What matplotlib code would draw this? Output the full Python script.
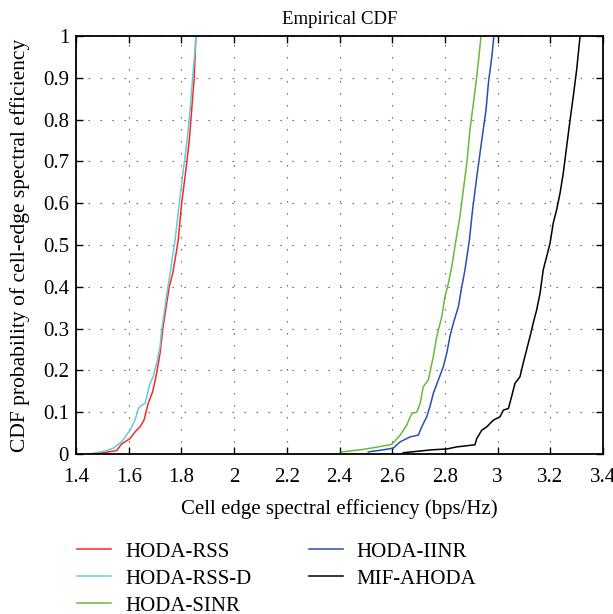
import matplotlib
matplotlib.use("Agg")
import matplotlib.pyplot as plt

plt.rcParams['font.family'] = ['Liberation Serif', 'DejaVu Serif']

# ---- data ----
rss_x = [1.472, 1.554, 1.573, 1.605, 1.624, 1.643, 1.658, 1.674, 1.691, 1.706, 1.719, 1.729,
         1.742, 1.754, 1.767, 1.780, 1.788, 1.801, 1.817, 1.830, 1.839, 1.848, 1.852, 1.855]
rss_y = [0.000, 0.008, 0.024, 0.037, 0.053, 0.065, 0.081, 0.121, 0.149, 0.193, 0.241, 0.297,
         0.352, 0.400, 0.432, 0.480, 0.512, 0.600, 0.679, 0.751, 0.823, 0.895, 0.950, 1.000]

rssd_x = [1.451, 1.516, 1.542, 1.573, 1.605, 1.624, 1.637, 1.650, 1.662, 1.681, 1.693, 1.706,
          1.719, 1.725, 1.738, 1.747, 1.757, 1.772, 1.776, 1.792, 1.807, 1.822, 1.835, 1.845,
          1.852, 1.855]
rssd_y = [0.000, 0.008, 0.014, 0.029, 0.057, 0.081, 0.109, 0.117, 0.121, 0.169, 0.185, 0.217,
          0.257, 0.297, 0.352, 0.392, 0.432, 0.496, 0.512, 0.600, 0.679, 0.751, 0.839, 0.919,
          0.967, 1.000]

sinr_x = [2.408, 2.490, 2.547, 2.598, 2.604, 2.630, 2.655, 2.674, 2.693, 2.706, 2.718, 2.737,
          2.756, 2.769, 2.788, 2.800, 2.813, 2.826, 2.842, 2.857, 2.870, 2.883, 2.895, 2.908,
          2.921, 2.929, 2.937]
sinr_y = [0.005, 0.011, 0.017, 0.023, 0.027, 0.045, 0.069, 0.097, 0.100, 0.121, 0.161, 0.177,
          0.233, 0.281, 0.328, 0.376, 0.408, 0.448, 0.512, 0.568, 0.632, 0.695, 0.775, 0.839,
          0.903, 0.950, 1.000]

iinr_x = [2.509, 2.566, 2.604, 2.630, 2.668, 2.699, 2.712, 2.731, 2.743, 2.756, 2.775, 2.794,
          2.807, 2.819, 2.832, 2.851, 2.864, 2.876, 2.893, 2.905, 2.921, 2.940, 2.956, 2.965,
          2.978, 2.986]
iinr_y = [0.005, 0.010, 0.014, 0.029, 0.041, 0.045, 0.065, 0.089, 0.113, 0.145, 0.177, 0.209,
          0.241, 0.281, 0.313, 0.352, 0.400, 0.440, 0.512, 0.584, 0.663, 0.751, 0.823, 0.887,
          0.950, 1.000]

mif_x = [2.642, 2.750, 2.807, 2.845, 2.914, 2.921, 2.940, 2.959, 2.984, 3.009, 3.022, 3.041,
         3.053, 3.066, 3.085, 3.097, 3.110, 3.123, 3.135, 3.148, 3.161, 3.173, 3.186, 3.199,
         3.211, 3.224, 3.237, 3.249, 3.262, 3.275, 3.287, 3.300, 3.313]
mif_y = [0.003, 0.010, 0.012, 0.017, 0.022, 0.037, 0.057, 0.065, 0.081, 0.089, 0.105, 0.109,
         0.137, 0.169, 0.185, 0.217, 0.249, 0.281, 0.313, 0.344, 0.384, 0.440, 0.472, 0.504,
         0.552, 0.584, 0.624, 0.671, 0.735, 0.799, 0.855, 0.919, 1.000]

labels = ['HODA-RSS', 'HODA-RSS-D', 'HODA-SINR', 'HODA-IINR', 'MIF-AHODA']
colors = ['#f42a2a', '#6cc9d6', '#66bb3c', '#2c4fae', '#000000']

x_ticks = [1.4, 1.6, 1.8, 2.0, 2.2, 2.4, 2.6, 2.8, 3.0, 3.2, 3.4]
x_tick_labels = ['1.4', '1.6', '1.8', '2', '2.2', '2.4', '2.6', '2.8', '3', '3.2', '3.4']
y_ticks = [0, 0.1, 0.2, 0.3, 0.4, 0.5, 0.6, 0.7, 0.8, 0.9, 1.0]
y_tick_labels = ['0', '0.1', '0.2', '0.3', '0.4', '0.5', '0.6', '0.7', '0.8', '0.9', '1']

series = [(rss_x, rss_y), (rssd_x, rssd_y), (sinr_x, sinr_y), (iinr_x, iinr_y), (mif_x, mif_y)]

fig = plt.figure(figsize=(6.13, 6.14), dpi=100)
ax = fig.add_axes([76/613, 1-454/614, (603-76)/613, (454-36)/614])

handles = []
for (xs, ys), lab, col in zip(series, labels, colors):
    h, = ax.plot(xs, ys, color=col, lw=1.1, label=lab)
    handles.append(h)

ax.set_xlim(1.4, 3.4)
ax.set_ylim(0, 1)
ax.set_xticks(x_ticks)
ax.set_xticklabels(x_tick_labels)
ax.set_yticks(y_ticks)
ax.set_yticklabels(y_tick_labels)
ax.tick_params(direction='in', top=True, right=True, length=5, width=1.0,
               labelsize=15, colors='black')
ax.tick_params(axis='x', pad=10)
ax.tick_params(axis='y', pad=5)
for s in ax.spines.values():
    s.set_linewidth(1.3)
ax.grid(True, color='#555555', lw=0.8, linestyle=(0, (1.2, 9.6)))

ax.set_title('Empirical CDF', fontsize=13.5, pad=8.5)
ax.set_xlabel('Cell edge spectral efficiency (bps/Hz)', fontsize=15, labelpad=9)
ax.set_ylabel('CDF probability of cell-edge spectral efficiency', fontsize=15.5, labelpad=9)

fig.legend(handles=handles, labels=labels, ncol=2, frameon=False,
           loc='upper left', bbox_to_anchor=(77/613, 1-542/614),
           fontsize=15, handlelength=1.63, handletextpad=0.67,
           labelspacing=0.36, columnspacing=2.76, borderaxespad=0, borderpad=0)

fig.savefig('out.png', dpi=100)
